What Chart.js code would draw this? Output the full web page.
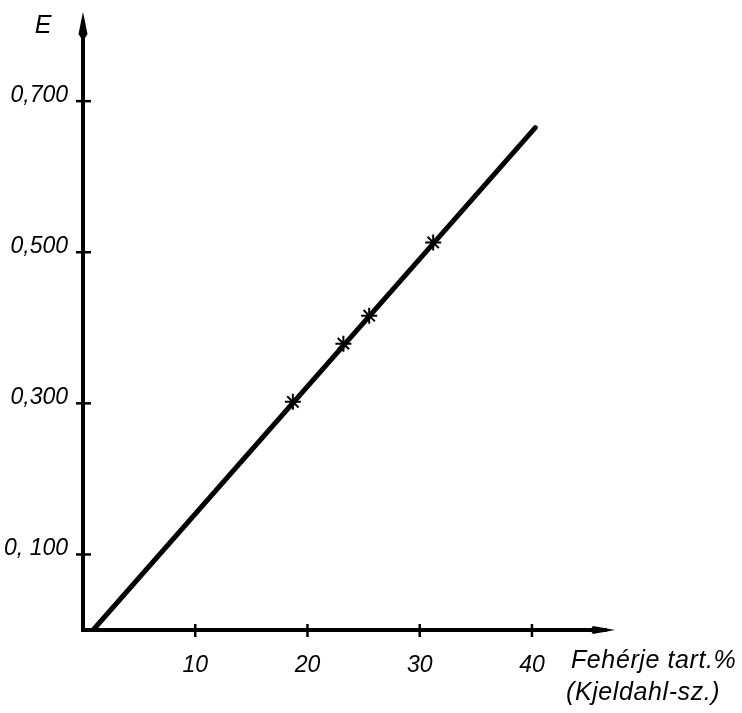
<!DOCTYPE html>
<html>
<head>
<meta charset="utf-8">
<script src="https://cdn.jsdelivr.net/npm/chart.js@4"></script>
<style>
  body { margin: 0; background: #fff; }
</style>
</head>
<body>
<canvas id="chart" width="742" height="713"></canvas>
<script>
// regression line end points
const lineX = [0.9, 40.3];
const lineY = [0, 0.665];

// measured samples (marked with *)
const sampleX = [18.7, 23.2, 25.5, 31.2];
const sampleY = [0.302, 0.379, 0.416, 0.513];

const xTicks = [10, 20, 30, 40];
const yTicks = [0.1, 0.3, 0.5, 0.7];
const yTickLabels = ['0, 100', '0,300', '0,500', '0,700'];

const FONT = "'Liberation Sans', 'DejaVu Sans', sans-serif";

// no extra room for half tick labels, the plot area is fixed by layout padding
function noScalePadding(s) {
  s.paddingTop = 0;
  s.paddingBottom = 0;
  s.paddingLeft = 0;
  s.paddingRight = 0;
}

// axes with arrows, crossing tick marks and the free-standing texts
const axesPlugin = {
  id: 'axesPlugin',
  afterDraw(chart) {
    const { ctx, chartArea: a, scales } = chart;
    ctx.save();
    ctx.strokeStyle = '#000';
    ctx.fillStyle = '#000';

    // axis lines
    ctx.lineWidth = 4;
    ctx.lineCap = 'square';
    ctx.beginPath();
    ctx.moveTo(a.left, a.top + 10);
    ctx.lineTo(a.left, a.bottom);
    ctx.lineTo(a.right - 10, a.bottom);
    ctx.stroke();

    // arrow heads
    ctx.beginPath();
    ctx.moveTo(a.left, a.top);
    ctx.lineTo(a.left + 4.5, a.top + 22);
    ctx.lineTo(a.left + 2, a.top + 26);
    ctx.lineTo(a.left - 2, a.top + 26);
    ctx.lineTo(a.left - 4.5, a.top + 22);
    ctx.closePath();
    ctx.fill();
    ctx.beginPath();
    ctx.moveTo(a.right, a.bottom);
    ctx.lineTo(a.right - 22, a.bottom - 4);
    ctx.lineTo(a.right - 25, a.bottom);
    ctx.lineTo(a.right - 22, a.bottom + 4);
    ctx.closePath();
    ctx.fill();

    // tick marks crossing the axes
    ctx.lineWidth = 2.5;
    ctx.lineCap = 'butt';
    xTicks.forEach(v => {
      const px = scales.x.getPixelForValue(v);
      ctx.beginPath();
      ctx.moveTo(px, a.bottom - 6);
      ctx.lineTo(px, a.bottom + 7);
      ctx.stroke();
    });
    yTicks.forEach(v => {
      const py = scales.y.getPixelForValue(v);
      ctx.beginPath();
      ctx.moveTo(a.left - 7, py);
      ctx.lineTo(a.left + 8, py);
      ctx.stroke();
    });

    // texts
    ctx.textBaseline = 'middle';
    ctx.font = 'italic 25px ' + FONT;
    ctx.textAlign = 'center';
    ctx.fillText('E', 43, 26);
    ctx.textAlign = 'left';
    ctx.letterSpacing = '0.6px';
    ctx.fillText('Fehérje tart.%', 571, 661);
    ctx.fillText('(Kjeldahl-sz.)', 566, 693);
    ctx.restore();
  }
};

new Chart(document.getElementById('chart'), {
  type: 'scatter',
  data: {
    datasets: [
      {
        type: 'line',
        data: lineX.map((x, i) => ({ x: x, y: lineY[i] })),
        borderColor: '#000',
        borderWidth: 5,
        borderCapStyle: 'round',
        pointRadius: 0,
        fill: false
      },
      {
        data: sampleX.map((x, i) => ({ x: x, y: sampleY[i] })),
        pointStyle: 'star',
        pointRadius: 8,
        borderWidth: 2,
        borderColor: '#000',
        backgroundColor: '#000'
      }
    ]
  },
  plugins: [axesPlugin],
  options: {
    responsive: false,
    animation: false,
    layout: { padding: { top: 12, right: 127, left: 0, bottom: 0 } },
    plugins: {
      legend: { display: false },
      tooltip: { enabled: false }
    },
    scales: {
      x: {
        type: 'linear',
        min: 0,
        max: 47.4,
        grid: { display: false, drawTicks: false },
        border: { display: false },
        afterBuildTicks: s => { s.ticks = xTicks.map(v => ({ value: v })); },
        afterFit: s => { s.height = 83; noScalePadding(s); },
        ticks: {
          padding: 22,
          color: '#000',
          font: { family: FONT, size: 23, style: 'italic' },
          callback: v => String(v)
        }
      },
      y: {
        type: 'linear',
        min: 0,
        max: 0.818,
        grid: { display: false, drawTicks: false },
        border: { display: false },
        afterBuildTicks: s => { s.ticks = yTicks.map(v => ({ value: v })); },
        afterFit: s => { s.width = 83; noScalePadding(s); },
        ticks: {
          padding: 15,
          labelOffset: -6,
          color: '#000',
          font: { family: FONT, size: 23, style: 'italic' },
          callback: v => yTickLabels[yTicks.indexOf(v)]
        }
      }
    }
  }
});
</script>
</body>
</html>
